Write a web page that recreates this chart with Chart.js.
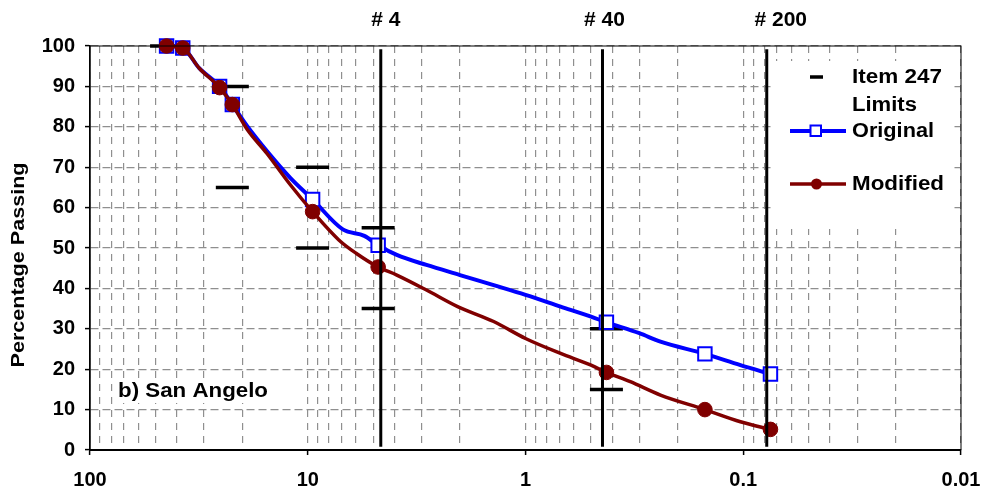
<!DOCTYPE html>
<html>
<head>
<meta charset="utf-8">
<script src="https://cdn.jsdelivr.net/npm/chart.js@4"></script>
<style>
  html, body { margin: 0; padding: 0; background: #fff; }
  #wrap { width: 986px; height: 497px; position: relative; }
</style>
</head>
<body>
<div id="wrap"><canvas id="myChart"></canvas></div>
<script>
// sieve size (mm) vs percent passing
var origSize = [44.5, 37.5, 31.5, 25.4, 22.2, 19, 15.3, 12, 9.5, 6.9, 5.5, 4.75, 3.9, 2.85, 2.0, 1.4, 1.0, 0.69, 0.5, 0.425, 0.3, 0.24, 0.15, 0.103, 0.075];
var origPass = [100, 99.5, 94.5, 90, 85.5, 80.2, 73.8, 67.3, 62, 54.6, 53.0, 50.7, 48.3, 45.8, 43.3, 40.8, 38.4, 35.5, 33.0, 31.6, 28.9, 26.8, 23.8, 21.0, 18.8];

var modSize = [44.5, 37.5, 31.5, 25.4, 22.2, 19, 15.4, 12, 9.5, 7.2, 6.0, 4.75, 3.9, 2.85, 2.05, 1.4, 1.0, 0.69, 0.5, 0.425, 0.33, 0.24, 0.15, 0.103, 0.075];
var modPass = [100, 99.5, 94.5, 89.7, 85.5, 79.4, 73.4, 65.6, 59, 52.0, 48.7, 45.3, 43.3, 39.6, 35.5, 31.8, 27.6, 23.9, 21.0, 19.2, 16.9, 13.6, 10, 7.0, 5.1];

// sizes that carry a marker
var markedSizes = [44.5, 37.5, 25.4, 22.2, 9.5, 4.75, 0.425, 0.15, 0.075];

// Item 247 limits
var limitSize = [44.5, 22.2, 22.2, 9.5, 9.5, 4.75, 4.75, 0.425, 0.425];
var limitPass = [100, 90, 65, 70, 50, 55, 35, 30, 15];

// sieve lines
var sieveNames = ['# 4', '# 40', '# 200'];
var sieveSize = [4.62, 0.443, 0.078];
var sieveSpan = [0.8, 99.2];

var xDecades = [100, 10, 1, 0.1, 0.01];
var xLabels = ['100', '10', '1', '0.1', '0.01'];
var yTitle = 'Percentage Passing';
var panelLabel = 'b) San Angelo';
var legendLabels = ['Item 247', 'Limits', 'Original', 'Modified'];

var FONT = "'Liberation Sans', Arial, sans-serif";
var BLUE = '#0000ff';
var RED = '#800000';
var GRID = '#8f8f8f';

function toPoints(xs, ys) {
  return xs.map(function(x, i) { return {x: x, y: ys[i]}; });
}

function markerRadius(xs, r) {
  return xs.map(function(x) { return markedSizes.indexOf(x) >= 0 ? r : 0; });
}

function decadeLabel(v) {
  for (var i = 0; i < xDecades.length; i++) {
    if (Math.abs(v / xDecades[i] - 1) < 1e-6) return xLabels[i];
  }
  return '';
}

// gridlines at 1..9 of each decade
var xGridValues = [];
[0.01, 0.1, 1, 10].forEach(function(d) {
  for (var m = 1; m < 10; m++) xGridValues.push(m * d);
});
xGridValues.push(100);

function fitText(ctx, text, x, y, width, align) {
  var s = width / ctx.measureText(text).width;
  ctx.save();
  ctx.translate(x, y);
  ctx.scale(s, 1);
  ctx.textAlign = align;
  ctx.fillText(text, 0, 0);
  ctx.restore();
}

var decor = {
  id: 'decor',
  beforeDatasetsDraw: function(chart) {
    var ctx = chart.ctx;
    ctx.save();
    ctx.fillStyle = '#fff';
    ctx.fillRect(773, 61, 179, 168);
    ctx.fillRect(115, 379, 156, 24);
    ctx.restore();
  },
  afterDraw: function(chart) {
    var ctx = chart.ctx;
    var a = chart.chartArea;
    var xs = chart.scales.x;
    ctx.save();

    // frame
    ctx.strokeStyle = '#000';
    ctx.lineWidth = 1;
    ctx.strokeRect(a.left, a.top, a.right - a.left, a.bottom - a.top);

    ctx.fillStyle = '#000';
    ctx.textBaseline = 'middle';

    // sieve labels
    ctx.font = 'bold 21px ' + FONT;
    var offs = [5, 2, 14];
    sieveNames.forEach(function(n, i) {
      ctx.textAlign = 'center';
      ctx.fillText(n, xs.getPixelForValue(sieveSize[i]) + offs[i], 20);
    });

    // y title
    ctx.font = 'bold 18px ' + FONT;
    ctx.save();
    ctx.translate(19, 265);
    ctx.rotate(-Math.PI / 2);
    fitText(ctx, yTitle, 0, 0, 205, 'center');
    ctx.restore();

    // panel label
    ctx.font = 'bold 20px ' + FONT;
    fitText(ctx, panelLabel, 118, 391, 150, 'left');

    // legend
    ctx.lineCap = 'butt';
    ctx.strokeStyle = '#000';
    ctx.lineWidth = 3.5;
    ctx.beginPath(); ctx.moveTo(810, 77); ctx.lineTo(823, 77); ctx.stroke();

    ctx.strokeStyle = BLUE;
    ctx.lineWidth = 4;
    ctx.beginPath(); ctx.moveTo(790, 131); ctx.lineTo(846, 131); ctx.stroke();
    ctx.fillStyle = '#fff';
    ctx.lineWidth = 2;
    ctx.fillRect(810.5, 125.5, 10.5, 10.5);
    ctx.strokeRect(810.5, 125.5, 10.5, 10.5);

    ctx.strokeStyle = RED;
    ctx.lineWidth = 3.5;
    ctx.beginPath(); ctx.moveTo(790, 184); ctx.lineTo(846, 184); ctx.stroke();
    ctx.fillStyle = RED;
    ctx.beginPath(); ctx.arc(816.5, 184, 5.5, 0, Math.PI * 2); ctx.fill();

    ctx.fillStyle = '#000';
    ctx.font = 'bold 20px ' + FONT;
    fitText(ctx, legendLabels[0], 852, 77, 90, 'left');
    fitText(ctx, legendLabels[1], 852, 105, 65, 'left');
    fitText(ctx, legendLabels[2], 852, 131, 82, 'left');
    fitText(ctx, legendLabels[3], 852, 184, 92, 'left');

    ctx.restore();
  }
};

document.addEventListener('DOMContentLoaded', function() {
  var datasets = [];

  sieveSize.forEach(function(s, i) {
    datasets.push({
      label: sieveNames[i],
      data: [{x: s, y: sieveSpan[0]}, {x: s, y: sieveSpan[1]}],
      showLine: true,
      borderColor: '#000',
      borderWidth: 3,
      pointRadius: 0,
      order: 0
    });
  });

  datasets.push({
    label: 'Modified',
    data: toPoints(modSize, modPass),
    showLine: true,
    borderColor: RED,
    borderWidth: 3.5,
    cubicInterpolationMode: 'monotone',
    pointStyle: 'circle',
    pointRadius: markerRadius(modSize, 7.3),
    pointBackgroundColor: RED,
    pointBorderColor: RED,
    pointBorderWidth: 1,
    clip: false,
    order: 1
  });

  datasets.push({
    label: 'Original',
    data: toPoints(origSize, origPass),
    showLine: true,
    borderColor: BLUE,
    borderWidth: 4,
    cubicInterpolationMode: 'monotone',
    pointStyle: 'rect',
    pointRadius: markerRadius(origSize, 9.5),
    pointBackgroundColor: '#fff',
    pointBorderColor: BLUE,
    pointBorderWidth: 2,
    clip: false,
    order: 2
  });

  datasets.push({
    label: 'Item 247 Limits',
    data: toPoints(limitSize, limitPass),
    showLine: false,
    pointStyle: 'line',
    pointRadius: 16.5,
    pointBorderColor: '#000',
    pointBorderWidth: 3.5,
    clip: false,
    order: 3
  });

  new Chart(document.getElementById('myChart'), {
    type: 'scatter',
    data: {datasets: datasets},
    plugins: [decor],
    options: {
      responsive: true,
      maintainAspectRatio: false,
      animation: false,
      layout: {padding: {top: 46, right: 25, left: 0, bottom: 0}},
      plugins: {legend: {display: false}, tooltip: {enabled: false}},
      scales: {
        x: {
          type: 'logarithmic',
          reverse: true,
          min: 0.01,
          max: 100,
          afterBuildTicks: function(scale) {
            scale.ticks = xGridValues.map(function(v) { return {value: v}; });
          },
          afterFit: function(scale) { scale.height = 47; },
          ticks: {
            autoSkip: false,
            maxRotation: 0,
            padding: 13,
            color: '#000',
            font: {family: FONT, size: 20, weight: 'bold'},
            callback: function(v) { return decadeLabel(v); }
          },
          grid: {
            color: GRID,
            lineWidth: 1.2,
            tickLength: 5,
            tickWidth: 1.5,
            tickBorderDash: [],
            tickColor: function(c) {
              return c.tick && decadeLabel(c.tick.value) !== '' ? '#000' : 'rgba(0,0,0,0)';
            }
          },
          border: {color: '#000', width: 2, dash: [7, 6]}
        },
        y: {
          min: 0,
          max: 100,
          afterFit: function(scale) { scale.width = 90; },
          ticks: {
            stepSize: 10,
            padding: 10,
            color: '#000',
            font: {family: FONT, size: 20, weight: 'bold'}
          },
          grid: {
            color: GRID,
            lineWidth: 1.2,
            tickLength: 5,
            tickWidth: 1.5,
            tickBorderDash: [],
            tickColor: '#000'
          },
          border: {color: '#000', width: 1.5, dash: [8, 4]}
        }
      }
    }
  });
});
</script>
</body>
</html>
